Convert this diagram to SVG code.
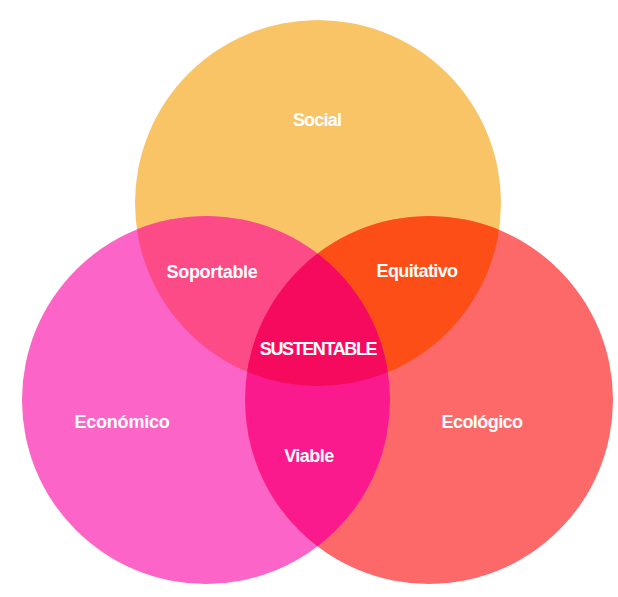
<svg xmlns="http://www.w3.org/2000/svg" width="618" height="597" viewBox="0 0 618 597">
<style>
.lbl{font-family:"Liberation Sans",Arial,sans-serif;font-size:18px;font-weight:bold;fill:#ffffff;text-anchor:middle;letter-spacing:-0.6px}
</style>
<defs>
<clipPath id="cS"><circle cx="318" cy="203" r="183"/></clipPath>
<clipPath id="cE"><circle cx="206" cy="400" r="184"/></clipPath>
<clipPath id="cG"><circle cx="429" cy="400" r="184"/></clipPath>
</defs>
<rect width="618" height="597" fill="#ffffff"/>
<g id="social"><circle cx="318" cy="203" r="183" fill="#F9C466"/></g>
<g id="economico"><circle cx="206" cy="400" r="184" fill="#FD64C8"/></g>
<g id="ecologico"><circle cx="429" cy="400" r="184" fill="#FD6868"/></g>
<g id="soportable"><circle cx="206" cy="400" r="184" fill="#FC4B86" clip-path="url(#cS)"/></g>
<g id="equitativo"><circle cx="429" cy="400" r="184" fill="#FC4E16" clip-path="url(#cS)"/></g>
<g id="viable"><circle cx="429" cy="400" r="184" fill="#FB1A8E" clip-path="url(#cE)"/></g>
<g id="sustentable"><g clip-path="url(#cS)"><circle cx="429" cy="400" r="184" fill="#F50A5E" clip-path="url(#cE)"/></g></g>
<g id="labels">
<text class="lbl" x="317" y="126" style="letter-spacing:-0.8px">Social</text>
<text class="lbl" x="212" y="278" style="letter-spacing:-0.3px">Soportable</text>
<text class="lbl" x="417" y="277">Equitativo</text>
<text class="lbl" x="318" y="355" style="letter-spacing:-1.4px">SUSTENTABLE</text>
<text class="lbl" x="122" y="428" style="letter-spacing:-0.2px">Económico</text>
<text class="lbl" x="482" y="428" style="letter-spacing:-0.55px">Ecológico</text>
<text class="lbl" x="309" y="462" style="letter-spacing:-0.5px">Viable</text>
</g>
</svg>
